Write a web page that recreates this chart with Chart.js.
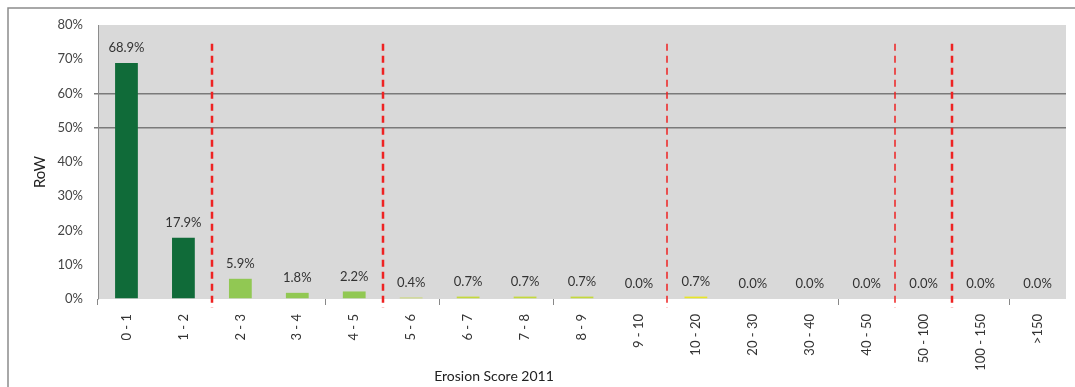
<!DOCTYPE html>
<html>
<head>
<meta charset="utf-8">
<title>Erosion Score 2011 – RoW</title>
<script src="https://cdn.jsdelivr.net/npm/chart.js@4/dist/chart.umd.min.js"></script>
<style>
  html, body { margin: 0; padding: 0; background: #fff; }
  #wrap { position: relative; width: 1075px; height: 387px; }
</style>
</head>
<body>
<div id="wrap"><canvas id="c" width="1075" height="387"></canvas></div>
<script>
// Erosion score bands (categories) and share of RoW population in each band (%)
const categories = ['0 - 1', '1 - 2', '2 - 3', '3 - 4', '4 - 5', '5 - 6', '6 - 7', '7 - 8', '8 - 9', '9 - 10',
                    '10 - 20', '20 - 30', '30 - 40', '40 - 50', '50 - 100', '100 - 150', '>150'];
const rowShare = [68.9, 17.9, 5.9, 1.8, 2.2, 0.4, 0.7, 0.7, 0.7, 0.0, 0.7, 0.0, 0.0, 0.0, 0.0, 0.0, 0.0];
const yTicks = [0, 10, 20, 30, 40, 50, 60, 70, 80];
// Band boundaries (index of first category after the divider) marked by red dashed dividers
const dividers = [2, 5, 10, 14, 15];
const heavyDividers = [2, 5, 15];

// Colour per severity group
const groupOf = i => (i < 2 ? 0 : i < 5 ? 1 : i < 10 ? 2 : 3);
const groupColors = ['#106b39', '#91c853', '#c4d93c', '#e8e627'];
const barColors = categories.map((_, i) => groupColors[groupOf(i)]);

const FONT = 'Lato, "Liberation Sans", sans-serif';
const xTickMarks = new Set([0, 4, 6, 8, 13, 16, 17]);
const shownGrid = new Set([50, 60]);

const decor = {
  id: 'decor',
  beforeDraw(chart) {
    const { ctx, chartArea: a } = chart;
    ctx.save();
    ctx.fillStyle = '#d9d9d9';
    ctx.fillRect(a.left, a.top, a.right - a.left, a.bottom - a.top);
    // outer frame (top and left edges)
    ctx.strokeStyle = '#8c8c8c';
    ctx.lineWidth = 1.5;
    ctx.beginPath();
    ctx.moveTo(8, 387);
    ctx.lineTo(8, 8);
    ctx.lineTo(1075, 8);
    ctx.stroke();
    ctx.restore();
  },
  afterDatasetsDraw(chart) {
    const { ctx } = chart;
    const xs = chart.scales.x, ys = chart.scales.y;
    ctx.save();
    // value labels
    ctx.font = '13px ' + FONT;
    ctx.fillStyle = '#333';
    ctx.textAlign = 'center';
    ctx.textBaseline = 'middle';
    chart.getDatasetMeta(0).data.forEach((bar, i) => {
      ctx.fillText(rowShare[i].toFixed(1) + '%', bar.x, bar.y - 15);
    });
    // red dashed band dividers
    ctx.strokeStyle = '#ee2222';
    ctx.setLineDash([7, 5]);
    dividers.forEach(k => {
      const x = Math.round((xs.getPixelForValue(k - 1) + xs.getPixelForValue(k)) / 2);
      ctx.lineWidth = heavyDividers.includes(k) ? 2.5 : 1.5;
      ctx.beginPath();
      ctx.moveTo(x, ys.getPixelForValue(74.5));
      ctx.lineTo(x, ys.bottom + 9);
      ctx.stroke();
    });
    ctx.setLineDash([]);
    // axis titles
    ctx.fillStyle = '#222';
    ctx.font = '14px ' + FONT;
    ctx.fillText('Erosion Score 2011', 494, 376);
    ctx.translate(40, 172);
    ctx.rotate(-Math.PI / 2);
    ctx.font = '15px ' + FONT;
    ctx.fillText('RoW', 0, 0);
    ctx.restore();
  }
};

new Chart(document.getElementById('c'), {
  type: 'bar',
  data: {
    labels: categories,
    datasets: [{
      data: rowShare,
      backgroundColor: barColors,
      borderWidth: 0,
      categoryPercentage: 1,
      barPercentage: 0.4
    }]
  },
  options: {
    responsive: false,
    animation: false,
    events: [],
    layout: { padding: { top: 25, right: 9, left: 0, bottom: 0 } },
    plugins: { legend: { display: false }, tooltip: { enabled: false } },
    scales: {
      x: {
        grid: {
          display: true,
          drawOnChartArea: false,
          drawTicks: true,
          tickLength: 6,
          color: 'rgba(0,0,0,0)',
          tickColor: ctx => (xTickMarks.has(ctx.index) ? '#888' : 'rgba(0,0,0,0)'),
          tickWidth: 1
        },
        border: { display: false },
        ticks: {
          minRotation: 90,
          maxRotation: 90,
          autoSkip: false,
          padding: 9,
          color: '#333',
          font: { family: FONT, size: 13 }
        },
        afterFit(scale) { scale.height = 88; }
      },
      y: {
        min: 0,
        max: 80,
        afterBuildTicks(scale) { scale.ticks = yTicks.map(v => ({ value: v })); },
        grid: {
          color: ctx => (ctx.tick && shownGrid.has(ctx.tick.value) ? '#7a7a7a' : 'rgba(0,0,0,0)'),
          tickColor: ctx => (ctx.tick && shownGrid.has(ctx.tick.value) ? '#7a7a7a' : 'rgba(0,0,0,0)'),
          lineWidth: 1.5,
          tickLength: 4
        },
        border: { display: true, color: '#8c8c8c', width: 1 },
        ticks: {
          padding: 11,
          color: '#444',
          font: { family: FONT, size: 13 },
          callback: v => v + '%'
        },
        afterFit(scale) { scale.width = 98; }
      }
    }
  },
  plugins: [decor]
});
</script>
</body>
</html>
